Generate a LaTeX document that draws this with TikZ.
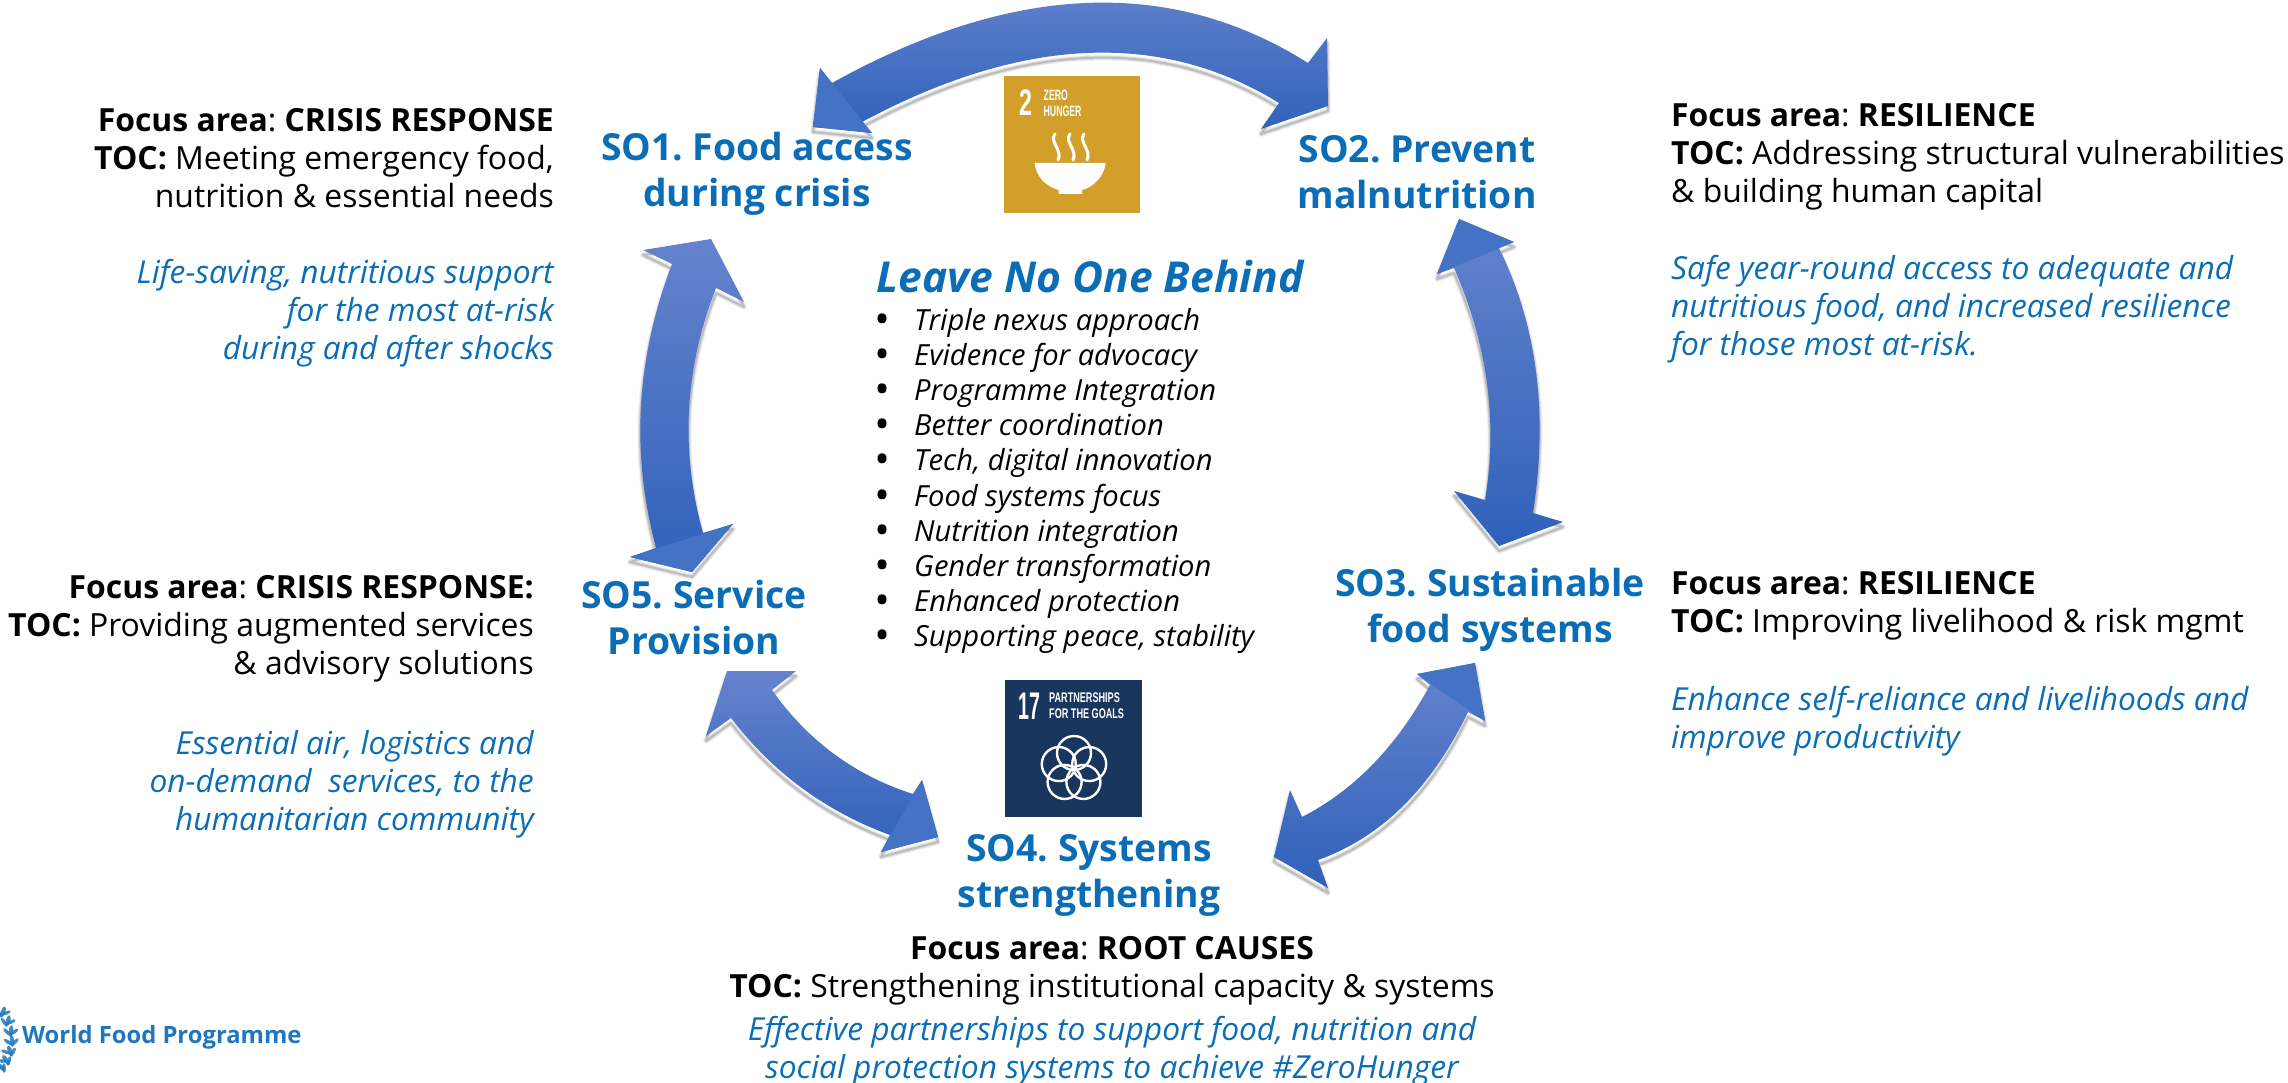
\documentclass[tikz,border=0pt]{standalone}
\usepackage{fontspec}
\usepackage{graphicx}
\setmainfont{Open Sans}
\newfontfamily\sdgfont{Liberation Sans}
\frenchspacing
\definecolor{wfpblue}{HTML}{0B6DB5}
\definecolor{arrowtop}{HTML}{6583CD}
\definecolor{arrowmid}{HTML}{4472C4}
\definecolor{arrowbot}{HTML}{2F61BA}
\definecolor{sdggold}{HTML}{D19F2A}
\definecolor{sdgnavy}{HTML}{19365F}
\definecolor{logoblue}{HTML}{2077BD}
\tikzset{
  blocktext/.style={inner sep=0pt,font=\fontsize{31.9}{38}\selectfont,text=black},
  bluetext/.style={blocktext,text=wfpblue,font=\fontsize{31.7}{38}\selectfont\itshape},
  headtext/.style={inner sep=0pt,align=center,text=wfpblue,font=\fontsize{37.3}{46}\selectfont\bfseries},
  arrowbody/.style={top color=arrowtop,middle color=arrowmid,bottom color=arrowbot,draw=none},
  flathead/.style={fill=arrowmid,draw=none},
  leaf/.style={fill=logoblue,draw=none,opacity=.85},
}
\newcommand{\lnobullet}{\makebox[38pt][l]{\upshape\bfseries\fontsize{32}{35.2}\selectfont •}}
\def\arrowA{(813,127) -- (820,68) -- (832,83) .. controls (1012,-17) and (1170.7,-23.7) .. (1308,63) -- (1327,38) -- (1328,106) -- (1261,129) -- (1279,103) .. controls (1160.7,30) and (1021.7,36.4) .. (862,122) -- (872,133) -- cycle}
\def\arrowB{(1459,219) -- (1514,242) -- (1499,248) .. controls (1537,325) and (1548.3,413.3) .. (1533,513) -- (1563,522) -- (1499,546) -- (1454,491) -- (1485,500) .. controls (1498,422.7) and (1487.7,345.3) .. (1454,268) -- (1437,274) -- cycle}
\def\arrowC{(711,239) -- (744,302) -- (716,288) .. controls (684.4,369) and (680,450.7) .. (703,533) -- (733,524) -- (692,572) -- (630,557) -- (656,548) .. controls (630.7,453.3) and (636,358.6) .. (672,264) -- (643,250) -- cycle}
\def\arrowD{(727,671) -- (796,671) -- (772,690) .. controls (807.7,740.6) and (854.7,775.3) .. (913,794) -- (922,780) -- (938,837) -- (881,852) -- (890,835) .. controls (825.6,811.4) and (772.6,772.4) .. (731,718) -- (706,736) -- cycle}
\def\arrowE{(1475,663) -- (1485,721) -- (1468,712) .. controls (1431.4,788) and (1381.4,837.4) .. (1318,860) -- (1328,888) -- (1274,857) -- (1290,790) -- (1302,817) .. controls (1354,790.4) and (1396.7,746.4) .. (1430,685) -- (1417,674) -- cycle}
\newcommand{\softshadow}[1]{%
  \foreach \wd/\op in {6/.05,4/.09,2/.14}{
    \path[shift={(0,5)},draw=black,draw opacity=\op,line width=\wd pt,line join=round] #1;
  }}
\begin{document}
\begin{tikzpicture}[x=1pt,y=-1pt]
\useasboundingbox (0,0) rectangle (2288,1083);

% block arrows
\softshadow{\arrowA}
\shade[arrowbody] \arrowA;
\fill[flathead] (820,68) -- (813,127) -- (872,133) -- cycle;
\softshadow{\arrowB}
\shade[arrowbody] \arrowB;
\fill[flathead] (1459,219) -- (1514,242) -- (1437,274) -- cycle;
\softshadow{\arrowC}
\shade[arrowbody] \arrowC;
\fill[flathead] (733,524) -- (692,572) -- (630,557) -- cycle;
\softshadow{\arrowD}
\shade[arrowbody] \arrowD;
\fill[flathead] (922,780) -- (938,837) -- (881,852) -- cycle;
\softshadow{\arrowE}
\shade[arrowbody] \arrowE;
\fill[flathead] (1417,674) -- (1475,663) -- (1485,721) -- cycle;

% SDG 2 icon
\fill[sdggold] (1004,76) rectangle (1140,213);
\node[text=white,inner sep=0pt,font=\sdgfont\bfseries\fontsize{37}{37}\selectfont] (sdgtwo) at (1025.5,103) {\scalebox{.63}[1]{2}};
\node[text=white,inner sep=0pt,anchor=west,align=left,font=\sdgfont\bfseries\fontsize{15}{16}\selectfont] (sdgzero) at (1043.5,103) {\scalebox{.58}[1]{ZERO}\\\scalebox{.58}[1]{HUNGER}};
\foreach \sx in {1055,1070,1084}{
  \draw[white,line width=3pt,line cap=round] (\sx,134) .. controls (\sx-6,142) and (\sx+8,150) .. (\sx+3,160);
}
\fill[white] (1034.5,163) -- (1105.7,163) .. controls (1104,176) and (1094,187) .. (1082,190) -- (1082,194) -- (1058.6,194) -- (1058.6,190) .. controls (1046,187) and (1036,176) .. (1034.5,163) -- cycle;

% SDG 17 icon
\fill[sdgnavy] (1005,680) rectangle (1142,817);
\node[text=white,inner sep=0pt,font=\sdgfont\bfseries\fontsize{38.5}{38.5}\selectfont] (sdgseventeen) at (1029,706) {\scalebox{.51}[1]{17}};
\node[text=white,inner sep=0pt,anchor=west,align=left,font=\sdgfont\bfseries\fontsize{14}{16}\selectfont] (sdgpartner) at (1049,706) {\scalebox{.65}[1]{PARTNERSHIPS}\\\scalebox{.65}[1]{FOR THE GOALS}};
\foreach \ang in {90,162,234,306,18}{
  \draw[white,line width=2.4pt] (1074,769) ++(\ang:-16) circle[radius=17];
}

% headings
\node[headtext] (so1) at (757,174) {SO1. Food access\\during crisis};
\node[headtext] (so2) at (1417,172) {SO2. Prevent\\malnutrition};
\node[headtext] (so3) at (1490,610) {SO3. Sustainable\\food systems};
\node[headtext] (so4) at (1089,875) {SO4. Systems\\strengthening};
\node[headtext] (so5) at (694,618) {SO5. Service\\Provision};

% centre
\node[inner sep=0pt,text=wfpblue,font=\fontsize{42.6}{50}\selectfont\bfseries\itshape] (lnob) at (1090,277) {Leave No One Behind};
\node[inner sep=0pt,anchor=west,align=left,font=\fontsize{29.1}{35.2}\selectfont\itshape] (lnolist) at (876,481) {%
\lnobullet Triple nexus approach\\
\lnobullet Evidence for advocacy\\
\lnobullet Programme Integration\\
\lnobullet Better coordination\\
\lnobullet Tech, digital innovation\\
\lnobullet Food systems focus\\
\lnobullet Nutrition integration\\
\lnobullet Gender transformation\\
\lnobullet Enhanced protection\\
\lnobullet Supporting peace, stability};

% SO1 texts
\node[blocktext,align=right,anchor=east] (t1) at (554,158) {\textbf{Focus area}: \textbf{CRISIS RESPONSE}\\\textbf{TOC:} Meeting emergency food,\\nutrition \& essential needs};
\node[bluetext,align=right,anchor=east] (b1) at (554,313) {Life-saving, nutritious support\\for the most at-risk\\during and after shocks};
% SO2 texts
\node[blocktext,align=left,anchor=west] (t2) at (1671,157) {\textbf{Focus area}: \textbf{RESILIENCE}\\\textbf{TOC:} Addressing structural vulnerabilities\\\& building human capital};
\node[bluetext,align=left,anchor=west] (b2) at (1671,309) {Safe year-round access to adequate and\\nutritious food, and increased resilience\\for those most at-risk.};
% SO3 texts
\node[blocktext,align=left,anchor=west] (t3) at (1671,606) {\textbf{Focus area}: \textbf{RESILIENCE}\\\textbf{TOC:} Improving livelihood \& risk mgmt};
\node[bluetext,align=left,anchor=west] (b3) at (1671,721) {Enhance self-reliance and livelihoods and\\improve productivity};
% SO5 texts
\node[blocktext,align=right,anchor=east] (t5) at (534,629) {\textbf{Focus area}: \textbf{CRISIS RESPONSE:}\\\textbf{TOC:} Providing augmented services\\\& advisory solutions};
\node[bluetext,align=right,anchor=east] (b5) at (534,784) {Essential air, logistics and\\on-demand\ \ services, to the\\humanitarian community};
% SO4 texts
\node[blocktext,align=center] (t4) at (1112,971) {\textbf{Focus area}: \textbf{ROOT CAUSES}\\\textbf{TOC:} Strengthening institutional capacity \& systems};
\node[bluetext,align=center] (b4) at (1112,1051) {Effective partnerships to support food, nutrition and\\social protection systems to achieve \#ZeroHunger};

% logo
\foreach \lx/\ly/\lr in {3/1012/70,8/1021/75,11/1031/85,12/1041/95,10/1051/110,6/1060/125,1/1067/140}{
  \fill[leaf] (\lx,\ly) ellipse[x radius=6,y radius=2.2,rotate=\lr];
  \fill[leaf] (\lx-4,\ly+1) ellipse[x radius=5,y radius=1.8,rotate=\lr+50];
  \fill[leaf] (\lx+3,\ly+1) ellipse[x radius=5,y radius=1.8,rotate=\lr-50];
}
\node[inner sep=0pt,anchor=west,text=logoblue,font=\fontsize{23.8}{30}\selectfont\bfseries] (wfp) at (22,1037) {World Food Programme};
\end{tikzpicture}
\end{document}
